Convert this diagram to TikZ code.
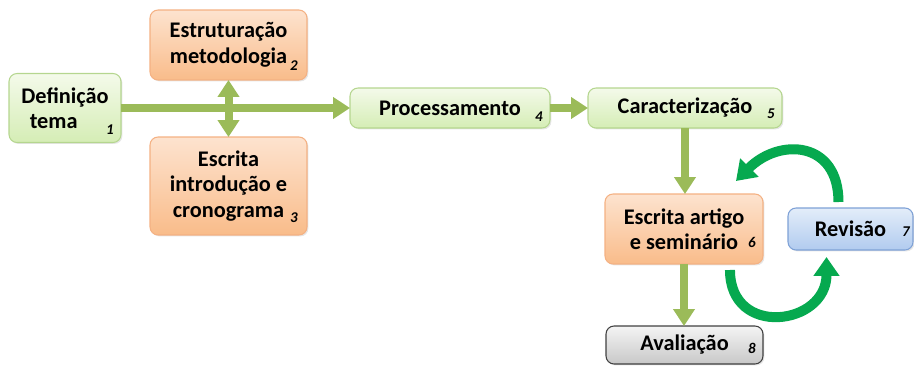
\documentclass[tikz,border=0pt]{standalone}
\usepackage{fontspec}
\setmainfont{Carlito}
\usetikzlibrary{arrows.meta,shadows}
\definecolor{verdetopo}{HTML}{F4FAEA}
\definecolor{verdebase}{HTML}{D5EDB5}
\definecolor{verdeborda}{HTML}{B5D68F}
\definecolor{laranjatopo}{HTML}{FDE3CF}
\definecolor{laranjabase}{HTML}{F9BC8A}
\definecolor{laranjaborda}{HTML}{F4B183}
\definecolor{azultopo}{HTML}{E3EDF9}
\definecolor{azulbase}{HTML}{B1CBEF}
\definecolor{azulborda}{HTML}{7EA1D6}
\definecolor{cinzatopo}{HTML}{F4F4F4}
\definecolor{cinzabase}{HTML}{C8C8C8}
\definecolor{setacor}{HTML}{9BBB59}
\definecolor{ciclocor}{HTML}{06A94F}
\begin{document}
\begin{tikzpicture}[x = 0.02cm, y = 0.02cm,
        every node/.style = {font = \bfseries\fontsize{12.7}{14.5}\selectfont, align = center},
        caixa/.style = {rounded corners = 0.16cm, inner sep = 0pt, outer sep = 0pt, line width = 0.6pt,
            drop shadow = {shadow xshift = 0.8pt, shadow yshift = -0.8pt, opacity = 0.2}},
        verde/.style = {caixa, draw = verdeborda, top color = verdetopo, bottom color = verdebase},
        laranja/.style = {caixa, draw = laranjaborda, top color = laranjatopo, bottom color = laranjabase},
        azul/.style = {caixa, draw = azulborda, top color = azultopo, bottom color = azulbase},
        cinza/.style = {caixa, draw = black!75, top color = cinzatopo, bottom color = cinzabase},
        num/.style = {font = \bfseries\itshape\fontsize{8.5}{10}\selectfont, inner sep = 0pt},
        seta/.style = {line width = 0.16cm, draw = setacor, -{Triangle[width = 0.42cm, length = 0.34cm]}},
        ciclo/.style = {line width = 0.2cm, draw = ciclocor, -{Triangle[width = 0.5cm, length = 0.38cm]}}]
    \useasboundingbox (0, 0) rectangle (914, -366);
    \node[verde, minimum width = 2.24cm, minimum height = 1.38cm] (n1) at (65, -108) {Definição\\tema\phantom{00}};
    \node[laranja, minimum width = 3.14cm, minimum height = 1.4cm] (n2) at (228.5, -45) {Estruturação\\metodologia};
    \node[laranja, minimum width = 3.14cm, minimum height = 1.96cm] (n3) at (228.5, -186) {Escrita\\introdução e\\cronograma};
    \node[verde, minimum width = 4cm, minimum height = 0.8cm] (n4) at (450, -108) {Processamento};
    \node[verde, minimum width = 3.88cm, minimum height = 0.8cm] (n5) at (685, -108) {Caracterização};
    \node[laranja, minimum width = 3.16cm, minimum height = 1.4cm] (n6) at (684, -229) {Escrita artigo\\e seminário};
    \node[azul, minimum width = 2.5cm, minimum height = 0.84cm] (n7) at (850.5, -229) {Revisão};
    \node[cinza, minimum width = 3.14cm, minimum height = 0.76cm] (n8) at (684.5, -345) {Avaliação};
    \node[num] (k1) at ([shift = {(-11, 13)}]n1.south east) {1};
    \node[num] (k2) at ([shift = {(-13, 14)}]n2.south east) {2};
    \node[num] (k3) at ([shift = {(-13, 17)}]n3.south east) {3};
    \node[num] (k4) at ([shift = {(-11, 11)}]n4.south east) {4};
    \node[num] (k5) at ([shift = {(-11, 14)}]n5.south east) {5};
    \node[num] (k6) at ([shift = {(-11, 22)}]n6.south east) {6};
    \node[num] (k7) at ([shift = {(-7, 18)}]n7.south east) {7};
    \node[num] (k8) at ([shift = {(-11, 16)}]n8.south east) {8};
    \draw[seta] (n1.east) -- (n4.west);
    \draw[seta, {Triangle[width = 0.42cm, length = 0.34cm]}-{Triangle[width = 0.42cm, length = 0.34cm]}]
        (n2.south) -- (n3.north);
    \draw[seta] (n4.east) -- (n5.west);
    \draw[seta] (n5.south) -- (n5.south |- n6.north);
    \draw[seta] (n6.south) -- (n6.south |- n8.north);
    \draw[ciclo] ([shift = {(-12, 6)}]n7.north) to[out = 90, in = 45, looseness = 1.5] ([shift = {(-27, 13)}]n6.north east);
    \draw[ciclo] ([shift = {(-33, -6)}]n6.south east) to[out = 270, in = 270, looseness = 1.8] ([shift = {(-24, -7)}]n7.south);
\end{tikzpicture}
\end{document}
